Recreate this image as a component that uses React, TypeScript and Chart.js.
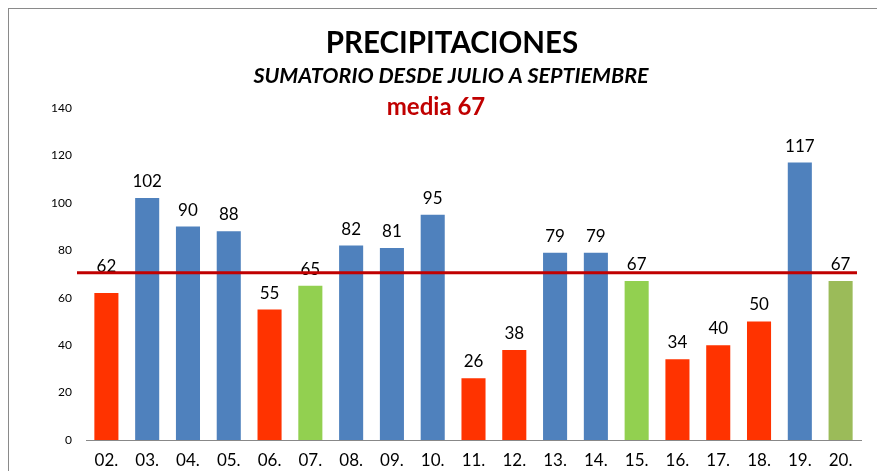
import React, { useEffect, useRef } from "react";
import { Chart, registerables } from "chart.js";

Chart.register(...registerables);

const categories = ["02.", "03.", "04.", "05.", "06.", "07.", "08.", "09.", "10.", "11.", "12.", "13.", "14.", "15.", "16.", "17.", "18.", "19.", "20."];
const precipitation = [62, 102, 90, 88, 55, 65, 82, 81, 95, 26, 38, 79, 79, 67, 34, 40, 50, 117, 67];
const barGroup = ["low", "high", "high", "high", "low", "mid", "high", "high", "high", "low", "low", "high", "high", "mid", "low", "low", "low", "high", "last"];
const meanLineValue = 70.5;
const yMin = 0;
const yMax = 140;
const yStep = 20;
const titleText = "PRECIPITACIONES";
const subtitleText = "SUMATORIO DESDE JULIO A SEPTIEMBRE";
const meanText = "media 67";

const groupColors: Record<string, string> = {
  low: "#FF3300",
  high: "#4F81BD",
  mid: "#92D050",
  last: "#9BBB59",
};

const FONT = "Lato, 'Noto Sans', sans-serif";

const overlayPlugin = {
  id: "overlay",
  afterDatasetsDraw(chart: any) {
    const { ctx, chartArea } = chart;
    const yScale = chart.scales.y;
    const meta = chart.getDatasetMeta(0);
    const yl = yScale.getPixelForValue(meanLineValue);
    ctx.save();
    // value labels
    ctx.fillStyle = "#000";
    ctx.font = `17px ${FONT}`;
    ctx.textAlign = "center";
    ctx.textBaseline = "alphabetic";
    const digitH = 12;
    meta.data.forEach((bar: any, i: number) => {
      let base = bar.y - 11;
      const top = base - digitH;
      if (yl >= top && yl <= top + digitH * 0.5) base = yl - 1;
      ctx.fillText(String(precipitation[i]), bar.x, base);
    });
    // mean line
    ctx.strokeStyle = "#C00000";
    ctx.lineWidth = 3;
    ctx.beginPath();
    ctx.moveTo(chartArea.left - 9, yl);
    ctx.lineTo(chartArea.right - 4, yl);
    ctx.stroke();
    // header
    ctx.fillStyle = "#000";
    ctx.font = `bold 29.5px ${FONT}`;
    ctx.fillText(titleText, 443, 44);
    ctx.font = `italic bold 21.5px ${FONT}`;
    ctx.fillText(subtitleText, 442, 74);
    ctx.fillStyle = "#C00000";
    ctx.font = `bold 24px ${FONT}`;
    ctx.fillText(meanText, 427, 106);
    ctx.restore();
  },
};

export default function App() {
  const ref = useRef<HTMLCanvasElement | null>(null);
  useEffect(() => {
    if (!ref.current) return;
    const chart = new Chart(ref.current, {
      type: "bar",
      data: {
        labels: categories,
        datasets: [
          {
            data: precipitation,
            backgroundColor: barGroup.map((g) => groupColors[g]),
            categoryPercentage: 1,
            barPercentage: 0.59,
            borderWidth: 0,
          },
        ],
      },
      options: {
        animation: false,
        responsive: false,
        devicePixelRatio: 1,
        layout: { padding: { top: 99, right: 24, left: 0, bottom: 0 } },
        plugins: {
          legend: { display: false },
          tooltip: { enabled: false },
          title: { display: false },
        },
        scales: {
          x: {
            grid: { display: false, drawTicks: false },
            border: { display: true, color: "#888888", width: 1 },
            ticks: { color: "#000", font: { family: FONT, size: 17 }, padding: 10, maxRotation: 0 },
            afterFit: (s: any) => { s.height = 31; },
          },
          y: {
            min: yMin,
            max: yMax,
            grid: { display: false, drawTicks: false },
            border: { display: false },
            ticks: { stepSize: yStep, color: "#000", font: { family: FONT, size: 12 }, padding: 14 },
            afterFit: (s: any) => { s.width = 77; },
          },
        },
      },
      plugins: [overlayPlugin],
    });
    return () => chart.destroy();
  }, []);
  return (
    <div style={{ width: 877, height: 463, boxSizing: "border-box", borderLeft: "1px solid #8a8a8a", borderTop: "1px solid #8a8a8a", background: "#fff", overflow: "hidden" }}>
      <canvas ref={ref} width={876} height={462} style={{ display: "block" }} />
    </div>
  );
}
